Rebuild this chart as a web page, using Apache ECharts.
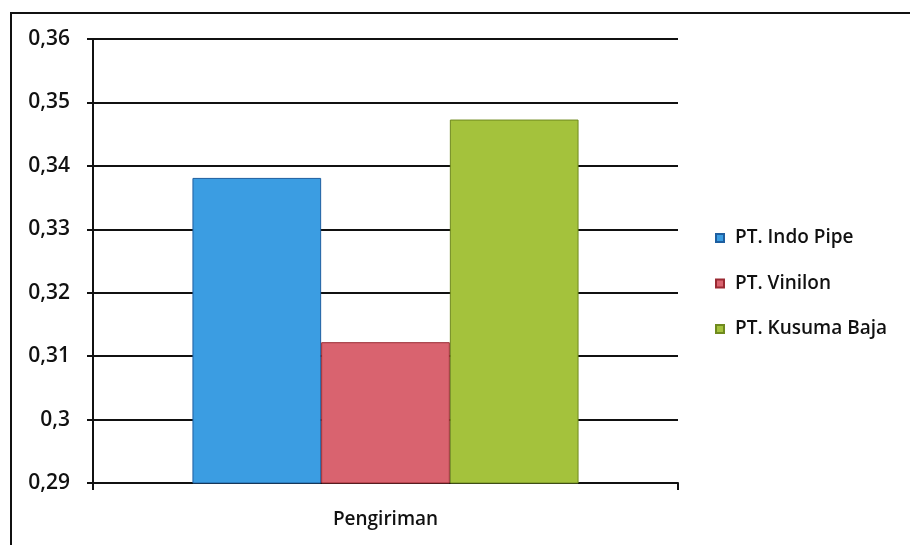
<!DOCTYPE html>
<html>
<head>
<meta charset="utf-8">
<script src="https://cdn.jsdelivr.net/npm/echarts@6/dist/echarts.min.js"></script>
<style>
html,body{margin:0;padding:0;background:#fff;}
#wrap{position:absolute;left:0;top:0;width:910px;height:545px;}
#frame{position:absolute;left:10px;top:12px;width:900px;height:533px;border-left:2px solid #111;border-top:2px solid #111;box-sizing:border-box;}
#chart{position:absolute;left:0;top:0;width:910px;height:545px;}
</style>
</head>
<body>
<div id="wrap"><div id="frame"></div><div id="chart"></div></div>
<script>
const categories = ["Pengiriman"];
const seriesNames = ["PT. Indo Pipe", "PT. Vinilon", "PT. Kusuma Baja"];
const indoPipe = [0.3381];
const vinilon = [0.3122];
const kusumaBaja = [0.3473];
const yTicks = [0.29, 0.30, 0.31, 0.32, 0.33, 0.34, 0.35, 0.36];

const colors = ["#3b9de2", "#d9636f", "#a4c23c"];
const borders = ["#1e5fa0", "#9a2a33", "#6f8a1e"];
const values = [indoPipe, vinilon, kusumaBaja];

const chart = echarts.init(document.getElementById('chart'), null, {renderer: 'canvas'});
const font = "Open Sans";

chart.setOption({
  animation: false,
  backgroundColor: 'transparent',
  textStyle: {fontFamily: font},
  grid: {left: 93, right: 232, top: 39, bottom: 62, containLabel: false},
  legend: {
    orient: 'vertical',
    left: 715,
    top: 228,
    padding: 0,
    itemWidth: 8,
    itemHeight: 8,
    itemGap: 25.5,
    icon: 'rect',
    textStyle: {fontSize: 19, color: '#111', fontFamily: font, fontWeight: 600, lineHeight: 20, padding: [0, 0, 0, 6]},
    data: seriesNames
  },
  xAxis: {
    type: 'category',
    data: categories,
    axisLine: {show: true, lineStyle: {color: '#111', width: 2}},
    axisTick: {show: true, length: 7, lineStyle: {color: '#111', width: 2}},
    axisLabel: {fontSize: 19, color: '#111', margin: 27, fontFamily: font, fontWeight: 600},
    splitLine: {show: false}
  },
  yAxis: {
    type: 'value',
    min: yTicks[0],
    max: yTicks[yTicks.length - 1],
    interval: 0.01,
    axisLine: {show: true, lineStyle: {color: '#111', width: 2}},
    axisTick: {show: true, length: 6, lineStyle: {color: '#111', width: 2}},
    axisLabel: {
      fontSize: 21, color: '#111', margin: 23, fontFamily: font, fontWeight: 600,
      formatter: v => {
        const t = yTicks.find(x => Math.abs(x - v) < 1e-6);
        if (t === undefined) return '';
        let s = String(Math.round(t * 100) / 100);
        return s.replace('.', ',');
      }
    },
    splitLine: {show: true, lineStyle: {color: '#111', width: 2}}
  },
  series: seriesNames.map((n, i) => ({
    name: n,
    type: 'bar',
    data: values[i],
    barGap: '0%',
    barCategoryGap: '34%',
    itemStyle: {color: colors[i], borderColor: borders[i], borderWidth: 1}
  }))
});
</script>
</body>
</html>
